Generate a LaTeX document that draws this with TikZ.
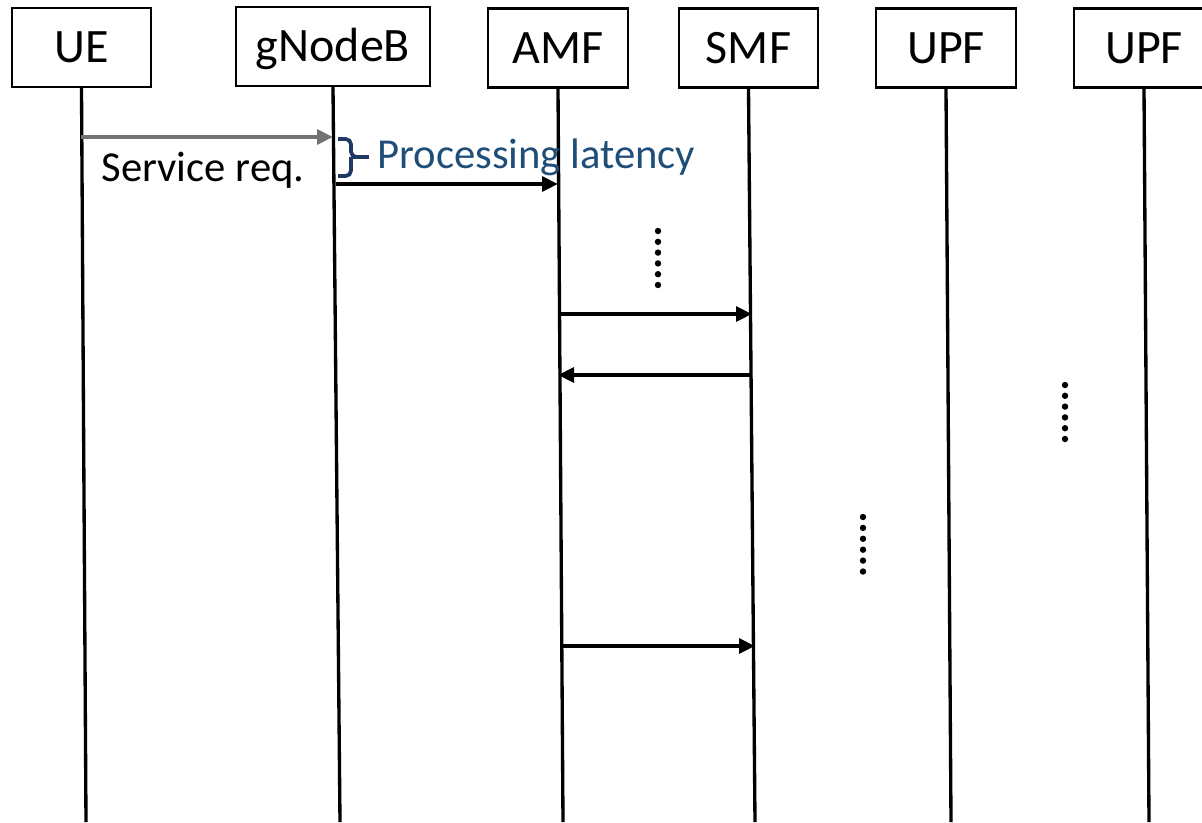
\documentclass[tikz,border=0pt]{standalone}
\usepackage{fontspec}
\setmainfont{Carlito}
\usetikzlibrary{arrows.meta}
\definecolor{arrgray}{RGB}{118,113,113}
\definecolor{latblue}{RGB}{31,78,121}
\definecolor{bracecol}{RGB}{31,56,100}
\begin{document}
\begin{tikzpicture}[x=0.75pt,y=-0.75pt,
  entity/.style={draw=black,line width=1.7pt,fill=white,minimum height=59.25pt,inner sep=0pt,text height=23pt,text depth=0pt,font=\fontsize{36}{40}\selectfont},
  lifeline/.style={line width=2.5pt},
  msg/.style={line width=3.5pt,-{Triangle[length=12pt,width=11pt]}},
  graymsg/.style={msg,draw=arrgray},
  vdot/.style={fill=black,circle,inner sep=0pt,minimum size=4.8pt}]
\clip (0,0) rectangle (1202,822);
\fill[white] (0,0) rectangle (1202,822);
% entities
\node[entity,minimum width=104.25pt] (ue) at (81.5,47.5) {UE};
\node[entity,minimum width=145.5pt] (gnb) at (333,46.5) {gNodeB};
\node[entity,minimum width=105pt] (amf) at (558,48) {AMF};
\node[entity,minimum width=104.25pt] (smf) at (748.5,48) {SMF};
\node[entity,minimum width=105pt] (upfa) at (946,48) {UPF};
\node[entity,minimum width=105pt] (upfb) at (1144,48) {UPF};
% lifeline ends
\coordinate (ueE) at (86,822);
\coordinate (gnbE) at (340,822);
\coordinate (amfE) at (563,822);
\coordinate (smfE) at (755,822);
\coordinate (upfaE) at (951,822);
\coordinate (upfbE) at (1149,822);
\draw[lifeline] (ue.south) -- (ueE);
\draw[lifeline] (gnb.south) -- (gnbE);
\draw[lifeline] (amf.south) -- (amfE);
\draw[lifeline] (smf.south) -- (smfE);
\draw[lifeline] (upfa.south) -- (upfaE);
\draw[lifeline] (upfb.south) -- (upfbE);
% message end points
\coordinate (m1s) at (81,137);
\coordinate (m1e) at (333,137);
\coordinate (m2s) at (336,184);
\coordinate (m2e) at (558,184);
\coordinate (m3s) at (560,314);
\coordinate (m3e) at (752,314);
\coordinate (m4s) at (752,375);
\coordinate (m4e) at (558,375);
\coordinate (m5s) at (563,646);
\coordinate (m5e) at (755,646);
\draw[graymsg] (m1s) -- (m1e);
\draw[msg] (m2s) -- (m2e);
\draw[msg] (m3s) -- (m3e);
\draw[msg] (m4s) -- (m4e);
\draw[msg] (m5s) -- (m5e);
% labels
\node[font=\fontsize{32}{35}\selectfont,anchor=center] (sreq) at (203,170) {Service req.};
\draw[bracecol,line width=2.8pt,rounded corners=4pt]
  (338,139) -- (351,139) -- (351,157) -- (353,157);
\draw[bracecol,line width=2.8pt,rounded corners=4pt]
  (338,176) -- (351,176) -- (351,157);
\coordinate (brtip) at (351,157);
\coordinate (tickend) at (369,157);
\node[font=\fontsize{32}{35}\selectfont,text=latblue,anchor=west,inner sep=0pt] (lat) at (377,157) {Processing latency};
\draw[bracecol,line width=2.8pt] (brtip) -- (tickend);
% vertical ellipses
\foreach \i in {0,...,5} {
  \node[vdot] (da\i) at (658,231+10.8*\i) {};
  \node[vdot] (db\i) at (1065,385+10.8*\i) {};
  \node[vdot] (dc\i) at (863,517+10.9*\i) {};
}
\end{tikzpicture}
\end{document}
